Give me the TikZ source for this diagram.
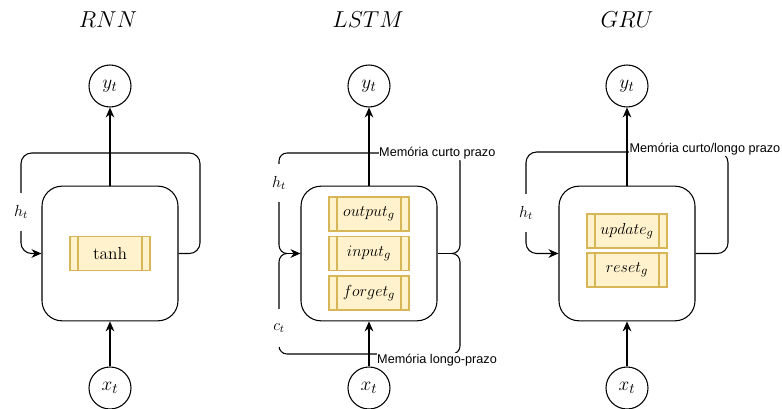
\documentclass[tikz,border=0pt]{standalone}
\usepackage{mathtools}
\usepackage{fontspec}
\newfontfamily\memfont{Liberation Sans}
\usepackage{tikz}
\usetikzlibrary{arrows.meta}

\definecolor{gatefill}{HTML}{FFF2CC}
\definecolor{gatedraw}{HTML}{D6B656}

\tikzset{
    arr/.style = {-{Stealth[length=7.5pt, width=6.5pt]}},
    cell/.style = {draw, rounded corners=15pt, minimum width=102pt, minimum height=101pt},
    gate/.style = {draw=gatedraw, fill=gatefill, minimum width=60pt, minimum height=25.5pt,
        inner sep=0pt, font=\fontsize{13}{15}\selectfont,
        path picture={
            \draw[gatedraw] ([xshift=6pt]path picture bounding box.north west)
                -- ([xshift=6pt]path picture bounding box.south west);
            \draw[gatedraw] ([xshift=-6pt]path picture bounding box.north east)
                -- ([xshift=-6pt]path picture bounding box.south east);
        }},
    io/.style = {draw, circle, minimum size=31.5pt, inner sep=0pt, font=\fontsize{15}{17}\selectfont},
    hlabel/.style = {fill=white, inner sep=1pt, minimum height=29pt, font=\fontsize{11.5}{13}\selectfont},
    mem/.style = {fill=white, inner sep=0.5pt, font=\memfont\fontsize{9.5}{11}\selectfont},
    title/.style = {font=\fontsize{17.5}{20}\selectfont}
}

\begin{document}
\begin{tikzpicture}[x=0.75pt, y=-0.75pt, line width=0.8pt]
    \useasboundingbox (0, 0) rectangle (782, 409);

    \node [title] (trnn) at (108, 20) {$RNN$};
    \node [title] (tlstm) at (368, 20) {$LSTM$};
    \node [title] (tgru) at (627, 20) {$GRU$};

    % RNN
    \node [io] (yr) at (110, 86) {$y_t$};
    \node [cell] (cr) at (110, 253.5) {};
    \node [gate] (tanh) at (110, 253.5) {$\tanh$};
    \node [io] (xr) at (110, 388) {$x_t$};
    \draw [arr] (cr.north) -- (yr.south);
    \draw [arr] (xr.north) -- (cr.south);
    \draw [arr, rounded corners=8pt] (cr.east) -- (200, 253.5) -- (200, 153)
        -- (21, 153) -- (21, 253.5) -- (cr.west);
    \node [hlabel] (hr) at (21, 212) {$h_t$};

    % LSTM
    \node [io] (yl) at (369, 86) {$y_t$};
    \node [cell] (cl) at (369, 253.5) {};
    \node [gate] (outg) at (369, 214) {$output_g$};
    \node [gate] (ing) at (369, 253.5) {$input_g$};
    \node [gate] (forg) at (369, 293) {$forget_g$};
    \node [io] (xl) at (369, 388) {$x_t$};
    \coordinate (tipl) at (287, 253.5);
    \coordinate (tipr) at (452, 253.5);
    \draw [arr] (cl.north) -- (yl.south);
    \draw [arr] (xl.north) -- (cl.south);
    \draw (tipr) to[out=0, in=-90] (460, 245) -- (460, 161) to[out=90, in=0] (452, 153)
        -- (287, 153) to[out=180, in=90] (279, 161) -- (279, 245) to[out=-90, in=180] (tipl);
    \draw (tipr) to[out=0, in=90] (460, 262) -- (460, 346) to[out=-90, in=0] (452, 354)
        -- (287, 354) to[out=180, in=-90] (279, 346) -- (279, 262) to[out=90, in=180] (tipl);
    \draw [arr] (tipl) -- (cl.west);
    \draw (cl.east) -- (tipr);
    \node [hlabel] (hl) at (279, 183) {$h_t$};
    \node [hlabel] (cc) at (279, 328) {$c_t$};
    \node [mem, anchor=west] (mcurto) at (378, 153) {Memória curto prazo};
    \node [mem, anchor=west] (mlongo) at (376, 360) {Memória longo-prazo};

    % GRU
    \node [io] (yg) at (627, 86) {$y_t$};
    \node [cell] (cg) at (627, 253.5) {};
    \node [gate] (upg) at (627, 231) {$update_g$};
    \node [gate] (resg) at (627, 270) {$reset_g$};
    \node [io] (xg) at (627, 388) {$x_t$};
    \draw [arr] (cg.north) -- (yg.south);
    \draw [arr] (xg.north) -- (cg.south);
    \draw [arr, rounded corners=8pt] (cg.east) -- (728, 253.5) -- (728, 152)
        -- (526, 152) -- (526, 253.5) -- (cg.west);
    \node [hlabel] (hg) at (526, 213) {$h_t$};
    \node [mem, anchor=east] (mcl) at (781.5, 149) {Memória curto/longo prazo};

\end{tikzpicture}
\end{document}
